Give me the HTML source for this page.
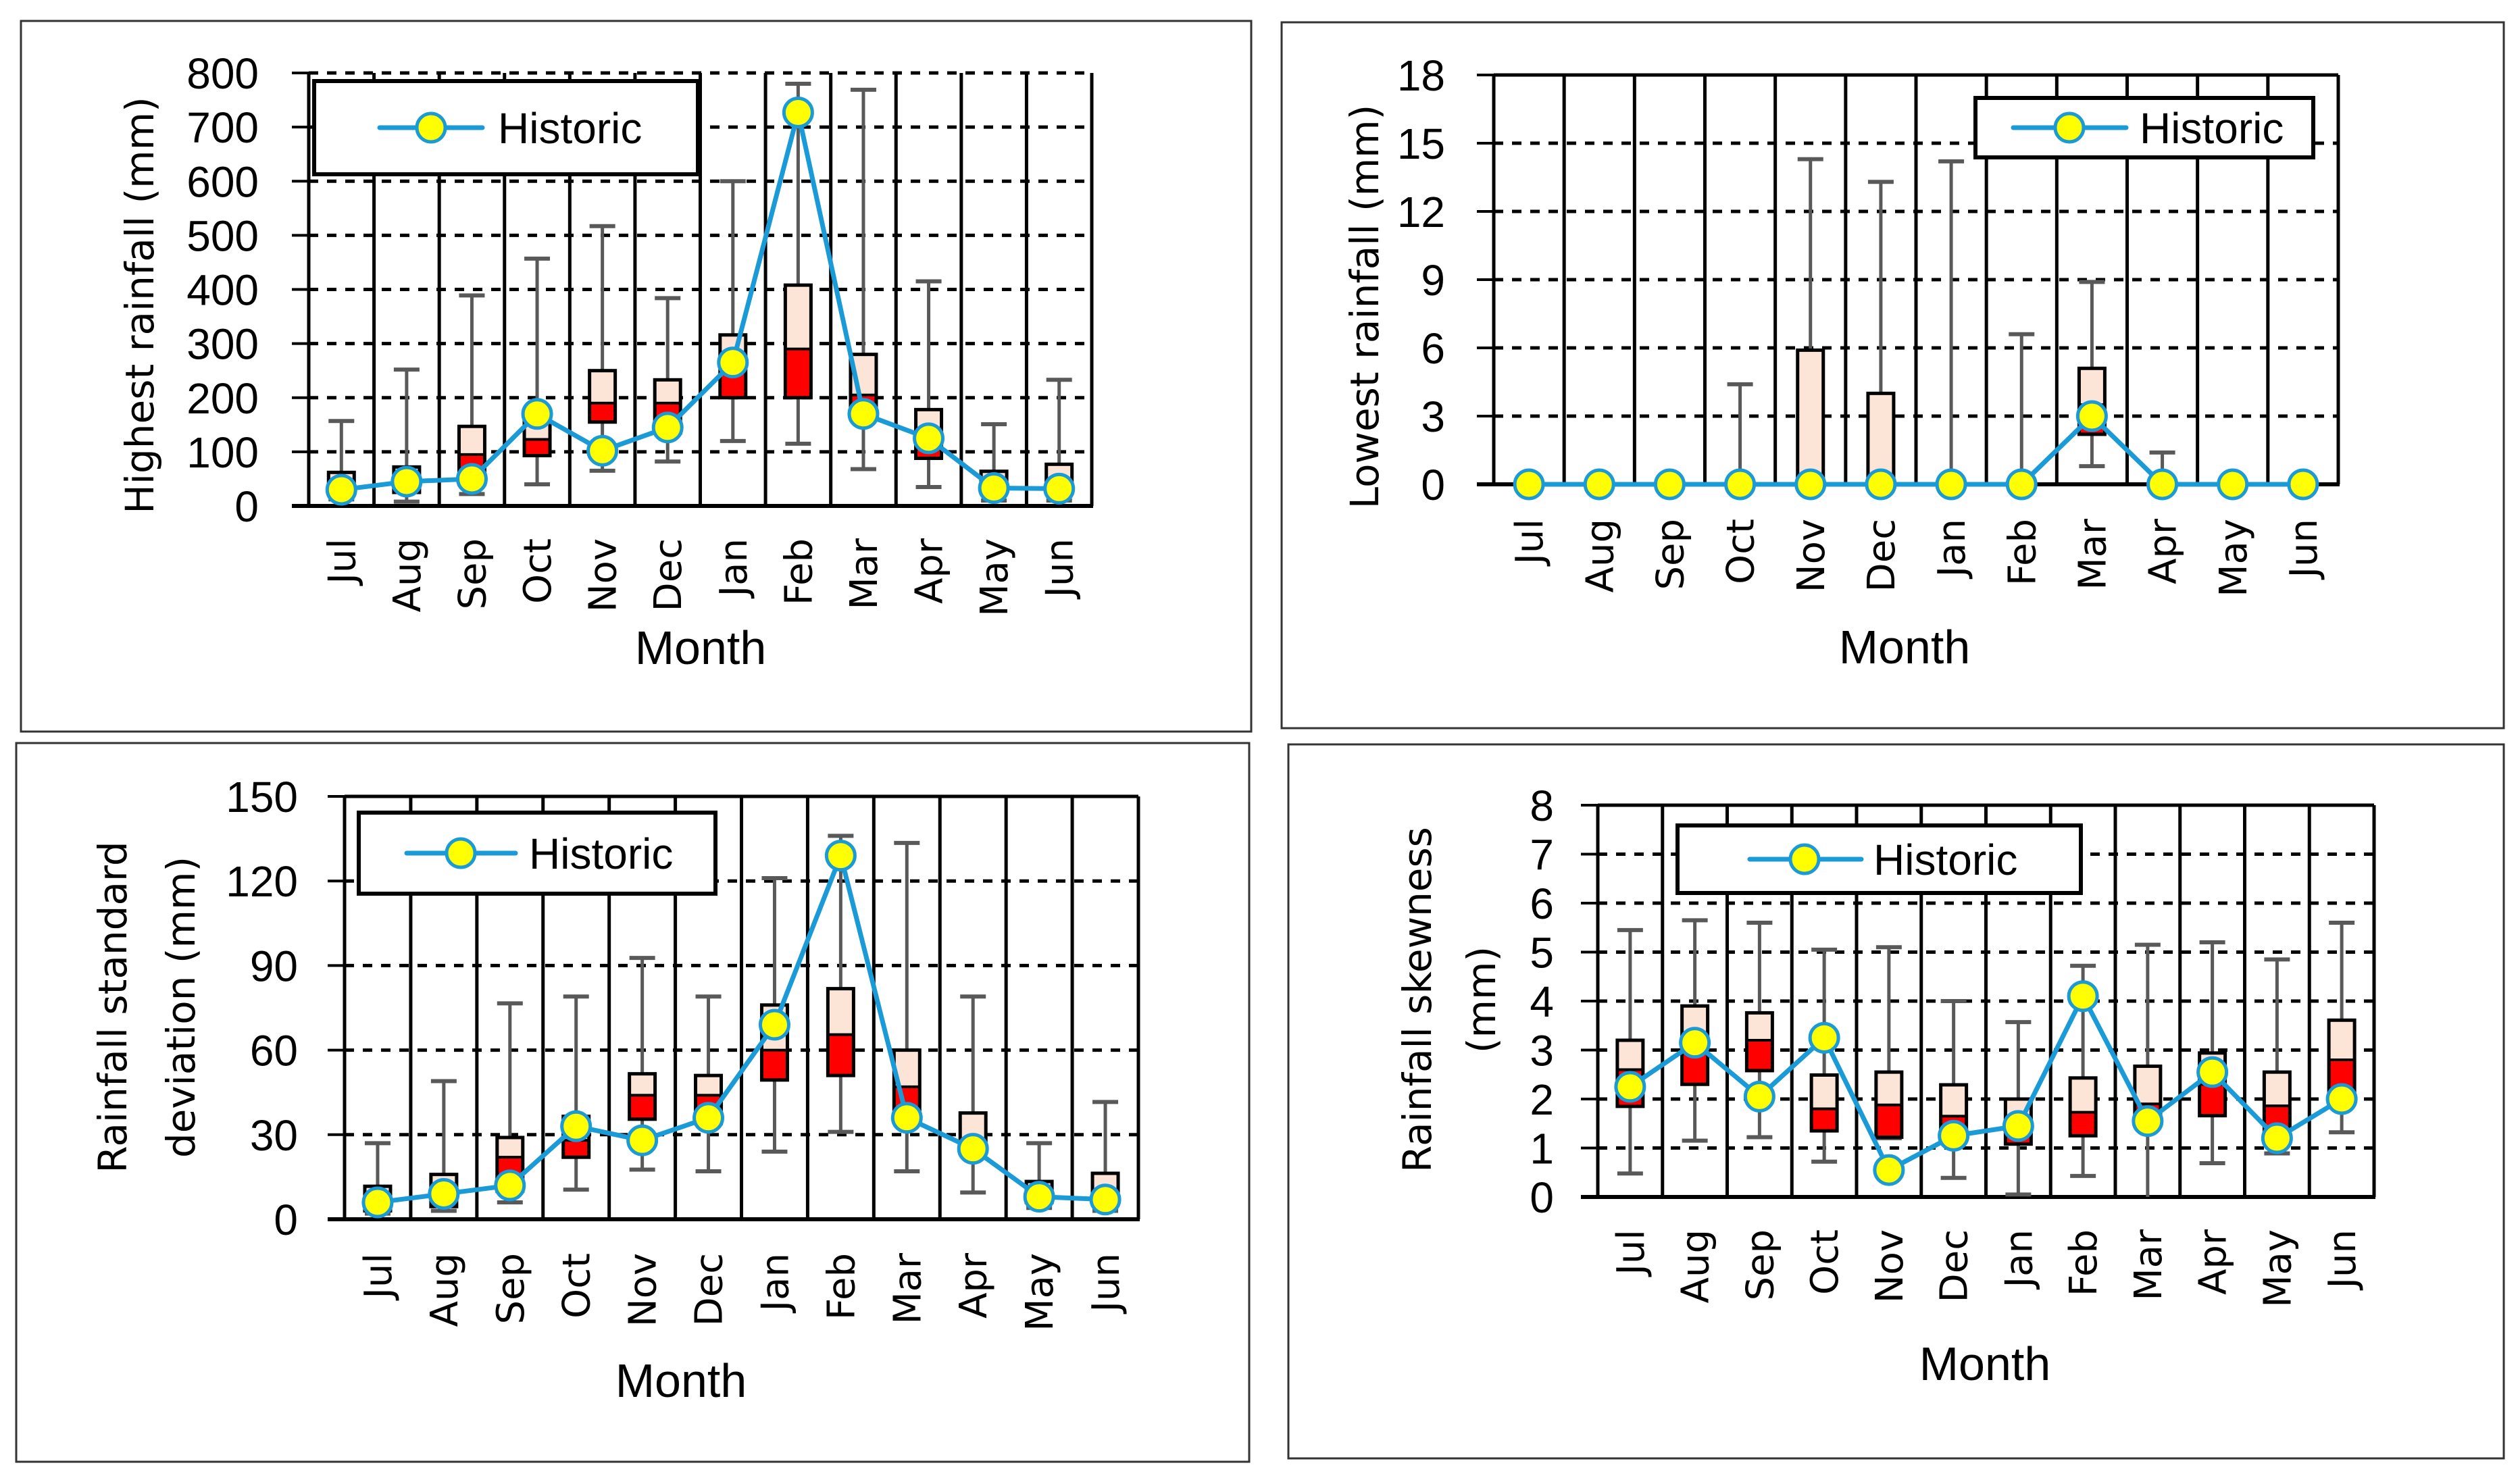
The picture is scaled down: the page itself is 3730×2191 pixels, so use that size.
<!DOCTYPE html>
<html><head><meta charset="utf-8"><style>
html,body{margin:0;padding:0;background:#fff}
svg{display:block}
text{fill:#000}
.num{font-family:"Liberation Sans",sans-serif;font-size:64px}
.mon{font-family:"DejaVu Sans",sans-serif;font-size:56px}
.ttl{font-family:"DejaVu Sans",sans-serif;font-size:58px}
.mth{font-family:"Liberation Sans",sans-serif;font-size:70px}
.leg{font-family:"Liberation Sans",sans-serif;font-size:64px}
</style></head><body>
<svg id="root" width="3730" height="2191" viewBox="0 0 3730 2191" xmlns="http://www.w3.org/2000/svg"></svg>
<script>
const months = ["Jul","Aug","Sep","Oct","Nov","Dec","Jan","Feb","Mar","Apr","May","Jun"];
// Panel 1: highest rainfall
const p1Min  = [12, 8, 22, 40, 65, 82, 120, 115, 68, 35, 10, 10];
const p1Q1   = [25, 25, 40, 93, 155, 135, 200, 200, 175, 88, 25, 25];
const p1Med  = [45, 50, 95, 123, 190, 190, 255, 290, 205, 110, 40, 50];
const p1Q3   = [62, 72, 147, 165, 250, 233, 316, 408, 280, 178, 64, 77];
const p1Max  = [157, 252, 389, 457, 517, 384, 600, 780, 769, 415, 151, 233];
const p1Hist = [30, 45, 50, 170, 102, 145, 265, 727, 170, 125, 33, 32];
const p1Ticks = [0,100,200,300,400,500,600,700,800];
// Panel 2: lowest rainfall
const p2Min  = [0, 0, 0, 0, 0, 0, 0, 0, 0.8, 0, 0, 0];
const p2Q1   = [0, 0, 0, 0, 0, 0, 0, 0, 2.2, 0, 0, 0];
const p2Med  = [0, 0, 0, 0, 0, 0, 0, 0, 3.5, 0, 0, 0];
const p2Q3   = [0, 0, 0, 0, 5.9, 4.0, 0, 0, 5.1, 0, 0, 0];
const p2Max  = [0, 0, 0, 4.4, 14.3, 13.3, 14.2, 6.6, 8.9, 1.4, 0, 0];
const p2Hist = [0, 0, 0, 0, 0, 0, 0, 0, 3, 0, 0, 0];
const p2Ticks = [0,3,6,9,12,15,18];
// Panel 3: standard deviation
const p3Min  = [2, 3, 6, 10.5, 17.6, 17, 24, 31, 17, 9.5, 4, 3];
const p3Q1   = [3, 4.5, 10, 22, 35.5, 34, 49.4, 51, 38, 24, 6, 6];
const p3Med  = [7, 10, 22, 28, 44, 44, 60, 65.5, 47, 28, 9, 10];
const p3Q3   = [11.7, 15.9, 29, 36.5, 51.6, 51, 76, 81.8, 60, 37.7, 13.4, 16.3];
const p3Max  = [27, 49, 76.6, 79, 92.7, 79, 121, 136, 133.5, 79, 27, 41.6];
const p3Hist = [6, 9, 12, 33, 28, 36, 69, 129, 36, 25, 8, 7];
const p3Ticks = [0,30,60,90,120,150];
// Panel 4: skewness
const p4Min  = [0.48, 1.15, 1.22, 0.72, 1.2, 0.39, 0.05, 0.43, 0.0, 0.69, 0.89, 1.32];
const p4Q1   = [1.85, 2.3, 2.58, 1.35, 1.22, 1.3, 1.08, 1.25, 1.6, 1.66, 1.1, 2.0];
const p4Med  = [2.6, 3.0, 3.2, 1.8, 1.88, 1.65, 1.4, 1.73, 1.9, 2.3, 1.86, 2.8];
const p4Q3   = [3.2, 3.9, 3.76, 2.49, 2.55, 2.29, 2.0, 2.43, 2.67, 2.94, 2.55, 3.61];
const p4Max  = [5.45, 5.65, 5.6, 5.05, 5.1, 4.0, 3.57, 4.72, 5.15, 5.2, 4.85, 5.6];
const p4Hist = [2.25, 3.15, 2.05, 3.25, 0.55, 1.25, 1.45, 4.1, 1.55, 2.55, 1.2, 2.0];
const p4Ticks = [0,1,2,3,4,5,6,7,8];

const NS = "http://www.w3.org/2000/svg";
const root = document.getElementById("root");
function mk(tag, attrs, parent){
  const e = document.createElementNS(NS, tag);
  for (const k in attrs) e.setAttribute(k, attrs[k]);
  (parent||root).appendChild(e);
  return e;
}

function panel(cfg){
  const g = mk("g", {});
  
  
  const fr = mk("rect", {x:cfg.frame[0], y:cfg.frame[1], width:cfg.frame[2]-cfg.frame[0], height:cfg.frame[3]-cfg.frame[1], fill:"#fff", stroke:"#333", "stroke-width":3}, g);
  
  
  const ymax = cfg.ticks[cfg.ticks.length-1];
  const Y = v => cfg.y1 - (v/ymax)*(cfg.y1-cfg.y0);
  const cw = (cfg.x1-cfg.x0)/months.length;
  const X = i => cfg.x0 + cw*(i+0.5);
  cfg.ticks.forEach((t, k) => {
    const y = Y(t);
    const isTop = k === cfg.ticks.length-1;
    if (t !== 0) {
      const gl = mk("line", {x1:cfg.x0, x2:cfg.x1, y1:y, y2:y, stroke:"#000", "stroke-width":5, "stroke-dasharray": (isTop && !cfg.topDashed) ? "none" : "14 13"}, g);
      
      
    }
    const tk = mk("line", {x1:cfg.x0-25, x2:cfg.x0, y1:y, y2:y, stroke:"#000", "stroke-width":4}, g);
    
    
    const tl = mk("text", {x:cfg.tickRight, y:y+23, "text-anchor":"end", class:"num"}, g);
    tl.textContent = t;
    
    
  });
  for (let i=0;i<=months.length;i++){
    const x = cfg.x0 + cw*i;
    const vl = mk("line", {x1:x, x2:x, y1:cfg.y0, y2:cfg.y1, stroke:"#000", "stroke-width":5}, g);
    
    
  }
  const ax = mk("line", {x1:cfg.x0-25, x2:cfg.x1+2, y1:cfg.y1, y2:cfg.y1, stroke:"#000", "stroke-width":6}, g);
  
  
  const L = cfg.legend;
  const lb = mk("rect", {x:L.x, y:L.y, width:L.w, height:L.h, fill:"#fff", stroke:"#000", "stroke-width":6}, g);
  
  
  const lcy = L.y + L.h/2;
  const ll = mk("line", {x1:L.x+L.l1, x2:L.x+L.l2, y1:lcy, y2:lcy, stroke:"#1A9AD6", "stroke-width":7, "stroke-linecap":"round"}, g);
  
  
  const lm = mk("circle", {cx:L.x+L.m, cy:lcy, r:21, fill:"#FFFF00", stroke:"#1A9AD6", "stroke-width":5}, g);
  
  
  const lt = mk("text", {x:L.x+L.t, y:lcy+23, class:"leg"}, g);
  lt.textContent = "Historic";
  
  
  const d = cfg.data;
  months.forEach((m,i) => {
    const x = X(i);
    if (d.max[i] > d.min[i]) {
      const w = mk("line", {x1:x, x2:x, y1:Y(d.max[i]), y2:Y(d.min[i]), stroke:"#595959", "stroke-width":5}, g);
      
      
      [d.max[i], d.min[i]].forEach(v => {
        if (v <= 0) return;
        const c = mk("line", {x1:x-19, x2:x+19, y1:Y(v), y2:Y(v), stroke:"#595959", "stroke-width":6}, g);
        
        
      });
    }
    if (d.q3[i] > d.q1[i]) {
      const bw = 38;
      const up = mk("rect", {x:x-bw/2, y:Y(d.q3[i]), width:bw, height:Y(d.med[i])-Y(d.q3[i]), fill:"#FCE4D6"}, g);
      
      
      const lo = mk("rect", {x:x-bw/2, y:Y(d.med[i]), width:bw, height:Y(d.q1[i])-Y(d.med[i]), fill:"#FF0000"}, g);
      
      
      const bo = mk("rect", {x:x-bw/2, y:Y(d.q3[i]), width:bw, height:Y(d.q1[i])-Y(d.q3[i]), fill:"none", stroke:"#000", "stroke-width":5}, g);
      
      
      const ml = mk("line", {x1:x-bw/2, x2:x+bw/2, y1:Y(d.med[i]), y2:Y(d.med[i]), stroke:"#000", "stroke-width":4}, g);
      
      
    }
  });
  const pts = d.hist.map((v,i) => X(i)+","+Y(v)).join(" ");
  const pl = mk("polyline", {points:pts, fill:"none", stroke:"#1A9AD6", "stroke-width":7, "stroke-linejoin":"round"}, g);
  
  
  d.hist.forEach((v,i) => {
    const c = mk("circle", {cx:X(i), cy:Y(v), r:21, fill:"#FFFF00", stroke:"#1A9AD6", "stroke-width":5}, g);
    
    
  });
  months.forEach((m,i) => {
    const x = X(i) + 20;
    const t = mk("text", {x:x, y:cfg.monthTop, transform:"rotate(-90 "+x+" "+cfg.monthTop+")", "text-anchor":"end", class:"mon"}, g);
    t.textContent = m;
    
    
  });
  const mt = mk("text", {x:cfg.mx, y:cfg.my, "text-anchor":"middle", class:"mth"}, g);
  mt.textContent = "Month";
  
  
  cfg.title.forEach((line, k) => {
    const tx = cfg.titleX[k] + 20;
    const tt = mk("text", {x:tx, y:cfg.titleY, transform:"rotate(-90 "+tx+" "+cfg.titleY+")", "text-anchor":"middle", class:"ttl"}, g);
    tt.textContent = line;
    
    
  });
}

panel({name:"highest-rainfall-chart", frame:[31,31,1852,1083], x0:457, x1:1616, y0:108, y1:749, ticks:p1Ticks, topDashed:true,
  tickRight:383, legend:{x:465,y:120,w:568,h:138,l1:97,l2:249,m:173,t:272},
  data:{min:p1Min,q1:p1Q1,med:p1Med,q3:p1Q3,max:p1Max,hist:p1Hist},
  monthTop:797, mx:1037, my:983, title:["Highest rainfall (mm)"], titleX:[207], titleY:452});
panel({name:"lowest-rainfall-chart", frame:[1897,33,3706,1078], x0:2211, x1:3461, y0:111, y1:717, ticks:p2Ticks, topDashed:false,
  tickRight:2139, legend:{x:2924,y:145,w:500,h:88,l1:56,l2:223,m:139,t:243},
  data:{min:p2Min,q1:p2Q1,med:p2Med,q3:p2Q3,max:p2Max,hist:p2Hist},
  monthTop:768, mx:2819, my:982, title:["Lowest rainfall (mm)"], titleX:[2020], titleY:454});
panel({name:"std-deviation-chart", frame:[24,1100,1849,2164], x0:510, x1:1685, y0:1179, y1:1805, ticks:p3Ticks, topDashed:false,
  tickRight:441, legend:{x:531,y:1203,w:528,h:120,l1:71,l2:232,m:151,t:252},
  data:{min:p3Min,q1:p3Q1,med:p3Med,q3:p3Q3,max:p3Max,hist:p3Hist},
  monthTop:1855, mx:1008, my:2068, title:["Rainfall standard","deviation (mm)"], titleX:[167,268], titleY:1491});
panel({name:"skewness-chart", frame:[1907,1102,3706,2159], x0:2365, x1:3514, y0:1192, y1:1772, ticks:p4Ticks, topDashed:false,
  tickRight:2300, legend:{x:2483,y:1222,w:597,h:100,l1:107,l2:272,m:188,t:290},
  data:{min:p4Min,q1:p4Q1,med:p4Med,q3:p4Q3,max:p4Max,hist:p4Hist},
  monthTop:1820, mx:2938, my:2043, title:["Rainfall skewness","(mm)"], titleX:[2098,2193], titleY:1480});
</script>
</body></html>
